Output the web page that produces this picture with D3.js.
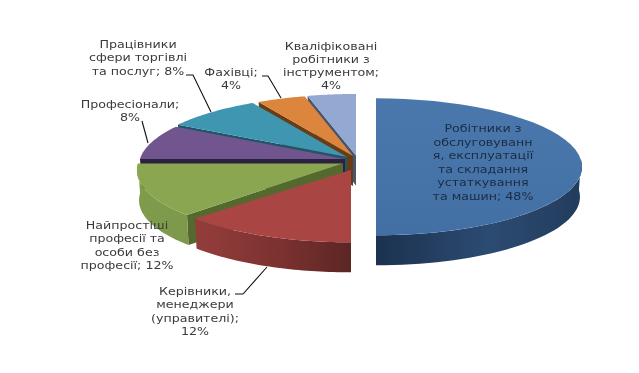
<!DOCTYPE html>
<html>
<head>
<meta charset="utf-8">
<script src="https://cdn.jsdelivr.net/npm/d3@7"></script>
<style>
  html, body { margin: 0; padding: 0; background: #fff; }
  svg { display: block; }
  text { font-family: "DejaVu Sans", sans-serif; font-size: 11.3px; fill: #3a3a3a; }
</style>
</head>
<body>
<div id="chart"></div>
<script>
var categories = [
  "Робітники з обслуговування, експлуатації та складання устаткування та машин",
  "Керівники, менеджери (управителі)",
  "Найпростіші професії та особи без професії",
  "Професіонали",
  "Працівники сфери торгівлі та послуг",
  "Фахівці",
  "Кваліфіковані робітники з інструментом"
];
var values = [48, 12, 12, 8, 8, 4, 4];
var labelLines = [
  ["Робітники з", "обслуговуванн", "я, експлуатації", "та складання", "устаткування", "та машин; 48%"],
  ["Керівники,", "менеджери", "(управителі);", "12%"],
  ["Найпростіші", "професії та", "особи без", "професії; 12%"],
  ["Професіонали;", "8%"],
  ["Працівники", "сфери торгівлі", "та послуг; 8%"],
  ["Фахівці;", "4%"],
  ["Кваліфіковані", "робітники з", "інструментом;", "4%"]
];
var topColors = ["#4674a8", "#a94644", "#8aa651", "#71558f", "#3f96b0", "#dc853c", "#93a9d1"];
var cutColors = ["#1f3654", "#5e2725", "#55692f", "#2b2140", "#1f5566", "#6a3c14", "#465670"];

// layout, kept apart from the data
var width = 639, height = 373;
var rx = 205, ry = 67.8, depth = 30, persp = 0.1, lowerScale = 0.99;
var apexes = [[376, 160], [351, 167], [343, 163.5], [345, 159], [347, 157], [353, 156], [356, 155.6]];
var tipDrop = [0, 3, 0, 0, 0, 0, 0];
var textStretch = 1.12;
var labelPos = [
  { x: 483, y: 132, dy: 13.6 },
  { x: 195, y: 295, dy: 13.4 },
  { x: 127, y: 229, dy: 13.4 },
  { x: 130, y: 108, dy: 13 },
  { x: 138, y: 48, dy: 13.5 },
  { x: 231, y: 76, dy: 13 },
  { x: 331, y: 50, dy: 13 }
];
var leaders = [
  [[235, 294], [243, 294], [267, 267]],
  [[142, 121], [148, 143]],
  [[186, 75], [193, 75], [211, 112]],
  [[262, 76], [268, 76], [281, 98]]
];

var svg = d3.select("#chart").append("svg")
  .attr("width", width)
  .attr("height", height)
  .style("filter", "blur(0.35px)");

var defs = svg.append("defs");
function wallGradient(id, x1, x2, stops) {
  var g = defs.append("linearGradient").attr("id", id)
    .attr("gradientUnits", "userSpaceOnUse")
    .attr("x1", x1).attr("x2", x2).attr("y1", 0).attr("y2", 0);
  stops.forEach(function (s) {
    g.append("stop").attr("offset", s[0]).attr("stop-color", s[1]);
  });
}
wallGradient("wall0", 378, 581, [[0, "#1c3250"], [0.55, "#2c4b72"], [1, "#223c5c"]]);
wallGradient("wall1", 198, 351, [[0, "#933d3b"], [0.55, "#7b312f"], [1, "#5b2624"]]);
wallGradient("wall2", 137, 200, [[0, "#7f9b4c"], [1, "#7d984a"]]);
var topGrad = defs.append("linearGradient").attr("id", "top0")
  .attr("x1", 0).attr("x2", 0).attr("y1", 0).attr("y2", 1);
topGrad.append("stop").attr("offset", 0).attr("stop-color", "#4a78ad");
topGrad.append("stop").attr("offset", 1).attr("stop-color", "#4370a4");

var pie = d3.pie().sort(null);
var arcs = pie(values);
var line = d3.line();

// disc point at angle a, clockwise from the back, with a simple perspective
function rim(i, a, drop) {
  var s = 1 / (1 + persp * Math.cos(a));
  var k = drop ? lowerScale : 1;
  return [
    apexes[i][0] + rx * Math.sin(a) * s * k,
    apexes[i][1] - ry * Math.cos(a) * s + (drop || 0)
  ];
}
function sweep(i, a0, a1, drop) {
  return d3.range(41).map(function (k) {
    return rim(i, a0 + (a1 - a0) * k / 40, drop);
  });
}

// back slices first, the big one last
[6, 5, 4, 3, 2, 1, 0].forEach(function (i) {
  var d = arcs[i];
  var apex = apexes[i];
  var g = svg.append("g");

  // cut face under the start edge, only for slices on the left half
  if (d.startAngle >= Math.PI) {
    var c = rim(i, d.startAngle);
    var c2 = rim(i, d.startAngle, depth);
    g.append("path")
      .attr("d", line([apex, c, c2, [apex[0], apex[1] + depth]]) + "Z")
      .attr("fill", cutColors[i]);
  }

  // outer wall on the part of the rim that faces us
  var a0 = Math.max(d.startAngle, Math.PI / 2);
  var a1 = Math.min(d.endAngle, Math.PI * 3 / 2);
  if (a1 > a0) {
    var upper = sweep(i, a0, a1, 0);
    var lower = sweep(i, a0, a1, depth).reverse();
    g.append("path")
      .attr("d", line(upper.concat(lower)) + "Z")
      .attr("fill", i < 3 ? "url(#wall" + i + ")" : cutColors[i]);
  }

  var tip = [apex[0], apex[1] + tipDrop[i]];
  g.append("path")
    .attr("d", line([tip].concat(sweep(i, d.startAngle, d.endAngle, 0))) + "Z")
    .attr("fill", i === 0 ? "url(#top0)" : topColors[i]);
});

svg.selectAll(".leader")
  .data(leaders)
  .enter()
  .append("path")
  .attr("class", "leader")
  .attr("d", function (d) { return line(d); })
  .attr("fill", "none")
  .attr("stroke", "#111")
  .attr("stroke-width", 1.1);

labelLines.forEach(function (lines, i) {
  var t = svg.append("text")
    .attr("text-anchor", "middle")
    .attr("transform", "translate(" + labelPos[i].x + ",0) scale(" + textStretch + ",1)")
    .style("fill", i === 0 ? "#1b2c44" : "#3a3a3a");
  lines.forEach(function (s, k) {
    t.append("tspan")
      .attr("x", 0)
      .attr("y", labelPos[i].y + k * labelPos[i].dy)
      .text(s);
  });
});
</script>
</body>
</html>
